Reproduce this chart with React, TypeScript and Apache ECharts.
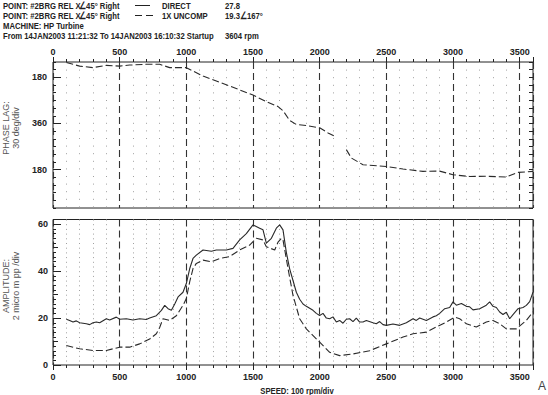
import React, { useEffect, useRef } from "react";
import * as echarts from "echarts";

const FONT = "'Liberation Sans', Arial, sans-serif";

// Phase lag (1X UNCOMP), degrees, plotted on inverted axis; null = gap
const phaseRpm = [100, 200, 300, 400, 500, 575, 700, 800, 875, 1000, 1050, 1125, 1225, 1325, 1425, 1500, 1600, 1688, 1725, 1775, 1825, 1900, 2000, 2063, 2113, 2160, 2200, 2238, 2325, 2500, 2625, 2775, 2900, 3000, 3125, 3250, 3400, 3488, 3600];
const phaseDeg = [122, 136, 142, 133, 136, 132, 129, 129, 142, 142, 155, 175, 194, 214, 234, 249, 275, 294, 310, 348, 364, 368, 377, 397, 410, null, 462, 495, 521, 528, 538, 547, 546, 560, 567, 566, 569, 551, 547];

// Amplitude DIRECT (solid)
const directRpm = [100, 125, 150, 175, 200, 250, 275, 300, 325, 350, 400, 425, 475, 500, 550, 600, 650, 700, 725, 775, 813, 838, 863, 888, 913, 938, 975, 1000, 1025, 1050, 1075, 1125, 1188, 1225, 1300, 1350, 1400, 1450, 1500, 1550, 1575, 1600, 1638, 1675, 1700, 1725, 1750, 1775, 1800, 1825, 1850, 1875, 1900, 1950, 1975, 2000, 2025, 2050, 2075, 2100, 2125, 2150, 2175, 2200, 2225, 2250, 2275, 2300, 2325, 2350, 2400, 2425, 2450, 2475, 2500, 2550, 2600, 2650, 2700, 2725, 2750, 2800, 2850, 2875, 2900, 2938, 2975, 3000, 3025, 3063, 3100, 3125, 3150, 3200, 3250, 3275, 3300, 3325, 3350, 3375, 3400, 3425, 3450, 3488, 3525, 3550, 3575, 3600];
const directAmp = [19.5, 19.0, 18.3, 18.8, 18.0, 17.6, 17.2, 18.0, 18.3, 18.0, 19.7, 19.2, 20.4, 19.5, 19.7, 19.2, 19.7, 19.4, 20.0, 21.0, 23.3, 25.4, 24.0, 23.3, 26.0, 29.0, 31.0, 34.7, 41.0, 45.4, 46.8, 49.0, 48.5, 49.0, 49.0, 49.7, 53.3, 56.0, 59.7, 58.3, 57.6, 51.9, 54.0, 58.3, 59.7, 57.6, 48.0, 41.0, 36.0, 31.0, 28.0, 26.0, 25.0, 23.3, 22.0, 21.1, 22.0, 20.0, 19.7, 20.5, 18.3, 19.0, 17.8, 19.5, 19.7, 18.5, 20.0, 18.3, 18.3, 19.0, 18.0, 17.6, 18.5, 17.2, 16.9, 17.5, 16.9, 18.0, 19.7, 19.0, 20.0, 19.0, 20.5, 21.0, 22.0, 24.0, 24.5, 26.9, 25.5, 26.2, 25.0, 24.8, 23.5, 24.0, 25.5, 26.9, 25.0, 24.5, 22.6, 21.5, 22.5, 19.7, 21.5, 24.0, 24.5, 25.4, 27.0, 31.0];

// Amplitude 1X UNCOMP (dashed)
const uncompRpm = [100, 200, 300, 400, 500, 575, 650, 725, 775, 800, 825, 875, 925, 975, 1000, 1025, 1050, 1075, 1125, 1188, 1250, 1325, 1400, 1475, 1525, 1575, 1600, 1663, 1688, 1713, 1725, 1763, 1800, 1850, 1900, 2000, 2075, 2150, 2250, 2375, 2500, 2625, 2700, 2800, 2875, 2950, 3013, 3050, 3100, 3175, 3250, 3300, 3350, 3400, 3475, 3550, 3600];
const uncompAmp = [8.3, 6.9, 6.2, 6.2, 7.6, 7.6, 9.0, 11.1, 13.3, 16.0, 19.7, 19.0, 21.0, 25.4, 28.3, 35.4, 41.1, 43.3, 44.7, 44.0, 45.4, 46.2, 49.0, 51.1, 54.0, 53.3, 50.4, 49.0, 52.4, 54.0, 53.3, 41.0, 29.7, 19.7, 15.4, 9.7, 5.4, 4.0, 4.7, 6.1, 9.0, 11.9, 13.3, 14.0, 16.2, 18.3, 20.4, 19.7, 17.6, 16.2, 18.3, 19.0, 17.6, 15.4, 15.4, 19.0, 22.6];

const speedTicks = [0, 500, 1000, 1500, 2000, 2500, 3000, 3500];
const phaseLabels = [180, 360, 540];
const ampLabels = [0, 20, 40, 60];
const ampMidTicks = [10, 30, 50];

const headerLines = [
  "POINT: #2BRG REL X",
  "POINT: #2BRG REL X",
  "MACHINE: HP Turbine",
  "From 14JAN2003 11:21:32 To 14JAN2003 16:10:32 Startup",
];
const probeText = ["\u222045\u00b0 Right", "\u222045\u00b0 Right"];
const seriesNames = ["DIRECT", "1X UNCOMP"];
const seriesValues = ["27.8", "19.3\u2220167\u00b0"];
const speedText = "3604 rpm";

const INK = "#222";
const SX = 0.81;

const hdr = (text: string, x: number, y: number) => ({
  type: "text",
  x,
  y,
  scaleX: SX,
  style: { text, font: `bold 9.5px ${FONT}`, fill: INK, verticalAlign: "top" },
});

export default function App() {
  const ref = useRef<HTMLDivElement>(null);
  useEffect(() => {
    if (!ref.current) return;
    const chart = echarts.init(ref.current, undefined, { renderer: "svg" });
    const bold = { fontFamily: FONT, fontWeight: "bold" as const, fontSize: 9, color: INK };
    const xCommon = (grid: number, pos: "top" | "bottom", dash: number[]) => ({
      type: "value" as const,
      gridIndex: grid,
      position: pos,
      min: 0,
      max: 3600,
      interval: 500,
      axisLine: { show: false },
      axisTick: { show: true, inside: false, length: 5, lineStyle: { color: INK } },
      minorTick: { show: true, splitNumber: 5, length: 3, lineStyle: { color: INK } },
      axisLabel: {
        show: true,
        showMaxLabel: true,
        customValues: speedTicks,
        margin: pos === "top" ? 6 : 7,
        formatter: (v: number) => String(v),
        ...bold,
      },
      splitLine: { show: true, lineStyle: { type: [7, 4], color: "#333", width: 1.1 } },
      minorSplitLine: { show: true, lineStyle: { type: dash, color: "#a0a0a0", width: 1 } },
    });
    const noAxis = { axisLine: { show: false }, splitLine: { show: false } };
    const option: any = {
      animation: false,
      backgroundColor: "#fff",
      grid: [
        { left: 53, top: 62, width: 480, height: 146, show: true, borderColor: INK, borderWidth: 1 },
        { left: 53, top: 219.5, width: 480, height: 145.5, show: true, borderColor: INK, borderWidth: 1 },
      ],
      xAxis: [xCommon(0, "top", [1, 6.6]), xCommon(1, "bottom", [1, 3.7])],
      yAxis: [
        {
          type: "value", gridIndex: 0, position: "left", inverse: true, min: 120, max: 690, interval: 30,
          ...noAxis,
          axisTick: { show: true, inside: true, length: 3, lineStyle: { color: INK } },
          axisLabel: {
            customValues: phaseLabels, margin: 6, ...bold,
            formatter: (v: number) => String(v > 360 ? v - 360 : v),
          },
        },
        {
          type: "value", gridIndex: 0, position: "left", inverse: true, min: 120, max: 690, interval: 30,
          ...noAxis,
          axisTick: { show: true, inside: true, length: 8, customValues: phaseLabels, lineStyle: { color: INK } },
          axisLabel: { show: false },
        },
        {
          type: "value", gridIndex: 0, position: "right", inverse: true, min: 120, max: 690, interval: 30,
          ...noAxis,
          axisTick: { show: true, inside: true, length: 4, lineStyle: { color: INK } },
          axisLabel: { show: false },
        },
        {
          type: "value", gridIndex: 1, position: "left", min: 0, max: 62, interval: 2,
          ...noAxis,
          axisTick: { show: true, inside: true, length: 3, lineStyle: { color: INK } },
          axisLabel: { customValues: ampLabels, margin: 5, ...bold },
        },
        {
          type: "value", gridIndex: 1, position: "left", min: 0, max: 62, interval: 2,
          ...noAxis,
          axisTick: { show: true, inside: true, length: 8, customValues: ampLabels, lineStyle: { color: INK } },
          axisLabel: { show: false },
        },
        {
          type: "value", gridIndex: 1, position: "left", min: 0, max: 62, interval: 2,
          ...noAxis,
          axisTick: { show: true, inside: true, length: 5, customValues: ampMidTicks, lineStyle: { color: INK } },
          axisLabel: { show: false },
        },
      ],
      series: [
        {
          name: "phase", type: "line", xAxisIndex: 0, yAxisIndex: 0, symbol: "none", connectNulls: false,
          lineStyle: { color: "#2a2a2a", width: 1.1, type: [7, 3] },
          data: phaseRpm.map((r, i) => [r, phaseDeg[i] == null ? "-" : phaseDeg[i]]),
        },
        {
          name: "DIRECT", type: "line", xAxisIndex: 1, yAxisIndex: 3, symbol: "none",
          lineStyle: { color: "#2a2a2a", width: 1.1 },
          data: directRpm.map((r, i) => [r, directAmp[i]]),
        },
        {
          name: "1X UNCOMP", type: "line", xAxisIndex: 1, yAxisIndex: 3, symbol: "none",
          lineStyle: { color: "#2a2a2a", width: 1.1, type: [7, 3] },
          data: uncompRpm.map((r, i) => [r, uncompAmp[i]]),
        },
      ],
      graphic: [
        ...headerLines.map((t, i) => hdr(t, 3, 1 + i * 10)),
        ...probeText.map((t, i) => hdr(t, 79, 1 + i * 10)),
        ...seriesNames.map((t, i) => hdr(t, 162, 1 + i * 10)),
        ...seriesValues.map((t, i) => hdr(t, 225, 1 + i * 10)),
        hdr(speedText, 225, 31),
        { type: "line", shape: { x1: 135, y1: 5.5, x2: 150, y2: 5.5 }, style: { stroke: INK, lineWidth: 1 } },
        { type: "line", shape: { x1: 135, y1: 15.5, x2: 153, y2: 15.5 }, style: { stroke: INK, lineWidth: 1, lineDash: [7, 4] } },
        {
          type: "text", x: 11, y: 128, rotation: Math.PI / 2,
          style: { text: "PHASE LAG:\n30 deg/div", font: `9px ${FONT}`, fill: "#555", align: "center", verticalAlign: "middle", lineHeight: 10 },
        },
        {
          type: "text", x: 11, y: 286, rotation: Math.PI / 2,
          style: { text: "AMPLITUDE:\n2 micro m pp /div", font: `9px ${FONT}`, fill: "#555", align: "center", verticalAlign: "middle", lineHeight: 10 },
        },
        {
          type: "text", x: 297, y: 386, scaleX: SX,
          style: { text: "SPEED: 100 rpm/div", font: `bold 9.5px ${FONT}`, fill: INK, align: "center", verticalAlign: "top" },
        },
        {
          type: "text", x: 538, y: 380,
          style: { text: "A", font: `12px ${FONT}`, fill: "#444" },
        },
      ],
    };
    chart.setOption(option);
    return () => chart.dispose();
  }, []);
  return (
    <div
      ref={ref}
      style={{ position: "absolute", left: 0, top: 0, width: 548, height: 395, background: "#fff" }}
    />
  );
}
